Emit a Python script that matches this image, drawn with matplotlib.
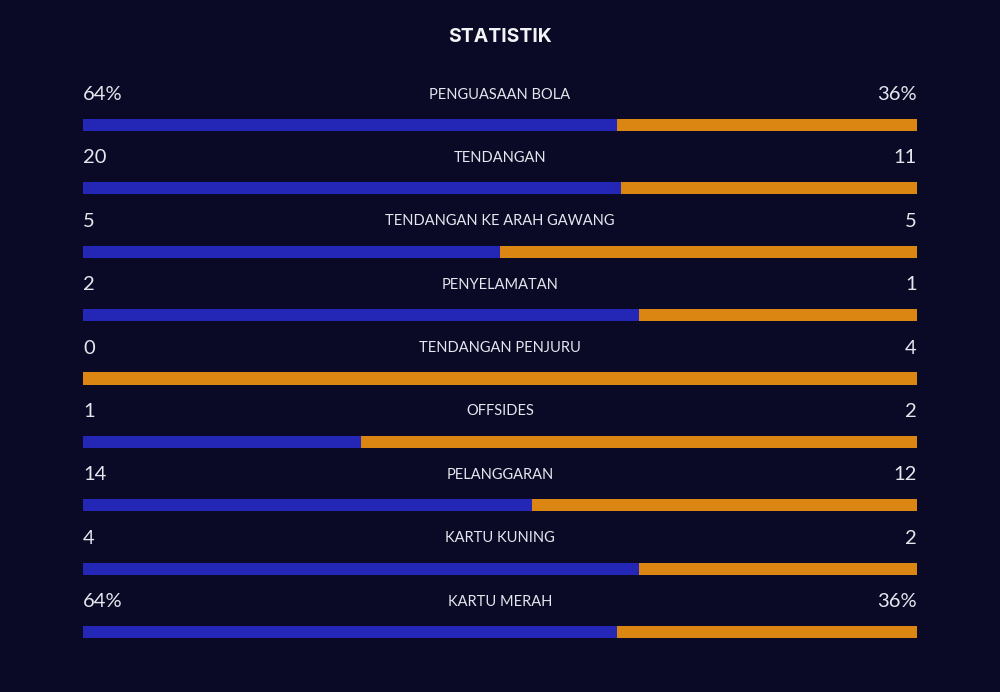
import matplotlib
matplotlib.use("Agg")
import matplotlib.pyplot as plt

# match stats, home vs away
categories = [
    "PENGUASAAN BOLA", "TENDANGAN", "TENDANGAN KE ARAH GAWANG",
    "PENYELAMATAN", "TENDANGAN PENJURU", "OFFSIDES",
    "PELANGGARAN", "KARTU KUNING", "KARTU MERAH",
]
home = [64, 20, 5, 2, 0, 1, 14, 4, 64]
away = [36, 11, 5, 1, 4, 2, 12, 2, 36]
home_labels = ["64%", "20", "5", "2", "0", "1", "14", "4", "64%"]
away_labels = ["36%", "11", "5", "1", "4", "2", "12", "2", "36%"]

BG = "#0a0a26"
BLUE = "#2427b5"
ORANGE = "#db8512"
TEXT = "#e6e6ee"


def main() -> None:
    fig = plt.figure(figsize=(10, 6.92), dpi=100, facecolor=BG)
    ax = fig.add_axes([0.083, 0.0, 0.834, 1.0])
    ax.set_facecolor(BG)
    ax.set_xlim(0, 1)
    ax.set_ylim(8.947, -1.972)
    ax.axis("off")

    rows = range(len(categories))
    share = [h / (h + a) for h, a in zip(home, away)]
    rest = [1 - s for s in share]
    ax.barh(rows, share, left=0, height=0.19, color=BLUE)
    ax.barh(rows, rest, left=share, height=0.19, color=ORANGE)

    for i, cat in enumerate(categories):
        y = i - 0.48
        ax.text(0, y, home_labels[i], ha="left", va="center",
                fontsize=14.5, color=TEXT, family="Lato")
        ax.text(1, y, away_labels[i], ha="right", va="center",
                fontsize=14.5, color=TEXT, family="Lato")
        ax.text(0.5, y, cat, ha="center", va="center",
                fontsize=10.5, color=TEXT, family="Lato")

    fig.text(0.5, 1 - 37 / 692, "STATISTIK", ha="center", va="center",
             fontsize=14, fontweight="bold", color="#f4f4f8",
             family="Inter")

    fig.savefig("out.png", facecolor=BG)


if __name__ == "__main__":
    main()
